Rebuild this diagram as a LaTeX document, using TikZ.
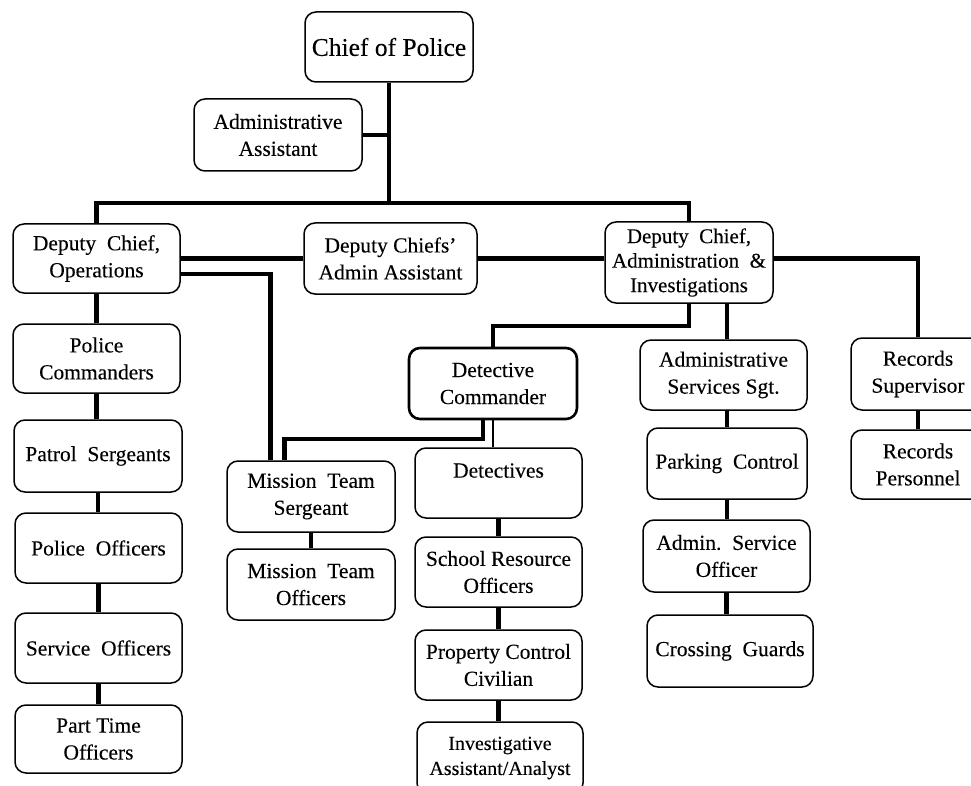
\documentclass[tikz,border=0pt]{standalone}
\usepackage{fontspec}
\setmainfont{Liberation Serif}[FakeBold=0.15]
\usetikzlibrary{calc}
\begin{document}
\begin{tikzpicture}[x=1pt,y=-1pt,
  box/.style={draw, rounded corners=11pt, line width=1.5pt, fill=white, align=center,
    inner sep=0pt, font=\fontsize{21.5}{27}\selectfont},
  conn/.style={line width=4.5pt},
  thinconn/.style={line width=2pt}]
\useasboundingbox (0,0) rectangle (971,786);
\clip (0,0) rectangle (971,786);
\fill[white] (0,0) rectangle (971,786);
% nodes
\node[box, minimum width=168pt, minimum height=70pt, font=\fontsize{25.5}{30}\selectfont] (chief) at (389,47) {Chief of Police};
\node[box, minimum width=168pt, minimum height=72pt] (aa) at (278,135) {Administrative\\Assistant};
\node[box, minimum width=167pt, minimum height=69pt] (ops) at (96.5,258.5) {Deputy\ \ Chief,\\Operations};
\node[box, minimum width=173pt, minimum height=71pt] (dcaa) at (390.5,258.5) {Deputy Chiefs'\\Admin Assistant};
\node[box, minimum width=168pt, minimum height=81pt, font=\fontsize{21}{24.5}\selectfont] (dcai) at (689,262.5) {Deputy\ \ Chief,\\Administration\ \ \&\\Investigations};
\node[box, minimum width=167pt, minimum height=69pt] (pc) at (96.5,358.5) {Police\\Commanders};
\node[box, minimum width=168pt, minimum height=72pt] (ps) at (98,456) {Patrol\ \ Sergeants};
\node[box, minimum width=167pt, minimum height=70pt] (po) at (98.5,548) {Police\ \ Officers};
\node[box, minimum width=167pt, minimum height=70pt] (so) at (98.5,648) {Service\ \ Officers};
\node[box, minimum width=167pt, minimum height=68pt] (pt) at (98.5,739) {Part Time\\Officers};
\node[box, minimum width=168pt, minimum height=71pt] (mts) at (311,496.5) {Mission\ \ Team\\Sergeant};
\node[box, minimum width=168pt, minimum height=71pt] (mto) at (311,584.5) {Mission\ \ Team\\Officers};
\node[box, minimum width=168pt, minimum height=71pt, line width=2.6pt] (dc) at (493,383.5) {Detective\\Commander};
\node[box, minimum width=167pt, minimum height=70pt] (det) at (498.5,483) {Detectives\\[-10pt]\strut};
\node[box, minimum width=167pt, minimum height=70pt] (sro) at (498.5,572) {School Resource\\Officers};
\node[box, minimum width=167pt, minimum height=70pt] (pcc) at (498.5,665) {Property Control\\Civilian};
\node[box, minimum width=166pt, minimum height=72pt, font=\fontsize{20}{25}\selectfont] (inv) at (500,758) {Investigative\\Assistant/Analyst};
\node[box, minimum width=167pt, minimum height=70pt] (ass) at (723.5,375) {Administrative\\Services Sgt.};
\node[box, minimum width=160pt, minimum height=71pt] (park) at (727,463.5) {Parking\ \ Control};
\node[box, minimum width=167pt, minimum height=72pt] (aso) at (726.5,556) {Admin.\ \ Service\\Officer};
\node[box, minimum width=166pt, minimum height=72pt] (cg) at (730,651) {Crossing\ \ Guards};
\node[box, minimum width=134pt, minimum height=72pt] (rs) at (918,374) {Records\\Supervisor};
\node[box, minimum width=134pt, minimum height=69pt] (rp) at (918,464.5) {Records\\Personnel};
% junctions
\coordinate (j1) at (389,203);
\coordinate (j2) at (689,326);
\coordinate (j3) at (271,274);
\coordinate (j4) at (483,439);
% connectors
\draw[conn] (chief.south) -- (j1);
\draw[conn] (aa.east) -- (aa.east -| chief.south);
\draw[conn] (ops.north) |- (j1) -| (dcai.north);
\draw[conn] (ops.east) -- (dcaa.west);
\draw[conn] (dcaa.east) -- (dcaa.east -| dcai.west);
\draw[conn] (ops.east |- j3) -| ($(mts.north west)+(44,0)$);
\draw[conn] (dcai.east |- dcaa.east) -| (rs.north);
\draw[conn] (dcai.south) -- (j2) -| (dc.north);
\draw[conn] ($(dcai.south)+(38,0)$) coordinate (t1) -- (t1 |- ass.north);
\draw[conn] (j4 |- dc.south) -- (j4) -| ($(mts.north west)+(58,0)$);
\draw[thinconn] (dc.south) -- (dc.south |- det.north);
\draw[conn] (ops.south) -- (pc.north);
\draw[conn] (pc.south) -- (pc.south |- ps.north);
\draw[conn] (ps.south) -- (ps.south |- po.north);
\draw[conn] (po.south) -- (po.south |- so.north);
\draw[conn] (so.south) -- (pt.north);
\draw[conn] (mts.south) -- (mto.north);
\draw[conn] (det.south) -- (sro.north);
\draw[conn] (sro.south) -- (pcc.north);
\draw[conn] (pcc.south) -- (pcc.south |- inv.north);
\draw[conn] (park.north) -- (park.north |- ass.south);
\draw[conn] (park.south) -- (park.south |- aso.north);
\draw[conn] (aso.south) -- (aso.south |- cg.north);
\draw[conn] (rs.south) -- (rp.north);
\end{tikzpicture}
\end{document}
